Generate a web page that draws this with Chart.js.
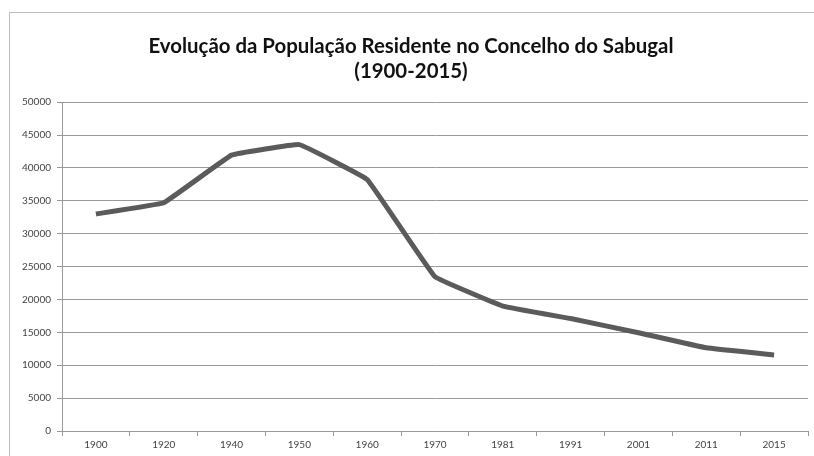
<!DOCTYPE html>
<html>
<head>
<meta charset="utf-8">
<script src="https://cdn.jsdelivr.net/npm/chart.js@4"></script>
<style>
  html, body { margin: 0; padding: 0; background: #fff; }
  #wrap { position: relative; width: 814px; height: 456px; overflow: hidden; }
  #moldura { position: absolute; left: 9px; top: 12px; width: 900px; height: 600px; border: 1px solid #bdbdbd; }
  canvas { position: absolute; left: 0; top: 0; }
</style>
</head>
<body>
<div id="wrap">
  <div id="moldura"></div>
  <canvas id="grafico" width="814" height="456"></canvas>
</div>
<script>
// Dados
const anos = ['1900', '1920', '1940', '1950', '1960', '1970', '1981', '1991', '2001', '2011', '2015'];
const populacao = [33000, 34700, 41950, 43550, 38250, 23450, 19000, 17100, 14950, 12650, 11550];
const titulo = ['Evolução da População Residente no Concelho do Sabugal', '(1900-2015)'];

let chart = new Chart(document.getElementById('grafico').getContext('2d'), {
    type: 'line',
    data: {
        labels: anos,
        datasets: [{
            data: populacao,
            borderColor: '#5b5b5b',
            borderWidth: 5,
            pointRadius: 0,
            tension: 0.06,
            fill: false
        }]
    },
    options: {
        responsive: false,
        animation: false,
        layout: {
            padding: { left: 14, right: 6, top: 0, bottom: 0 }
        },
        plugins: {
            legend: { display: false },
            tooltip: { enabled: false },
            title: {
                display: true,
                text: titulo,
                color: '#111',
                font: { family: 'Lato', size: 20.4, weight: 'bold', lineHeight: 1.23 },
                padding: { top: 34, bottom: 18 }
            }
        },
        scales: {
            x: {
                offset: true,
                grid: {
                    offset: true,
                    drawOnChartArea: false,
                    drawTicks: true,
                    tickLength: 5,
                    color: '#999'
                },
                border: { display: true, color: '#999' },
                ticks: {
                    color: '#444',
                    font: { family: 'Lato', size: 10 },
                    padding: 3,
                    maxRotation: 0,
                    autoSkip: false
                },
                afterFit: function(scale) { scale.height = 25; }
            },
            y: {
                min: 0,
                max: 50000,
                ticks: {
                    stepSize: 5000,
                    color: '#444',
                    font: { family: 'Lato', size: 10 },
                    padding: 6,
                    callback: function(value) {
                        return value;
                    }
                },
                grid: {
                    color: '#999',
                    tickLength: 5
                },
                border: { display: true, color: '#999' },
                afterFit: function(scale) { scale.width = 48; }
            }
        }
    }
});
</script>
</body>
</html>
